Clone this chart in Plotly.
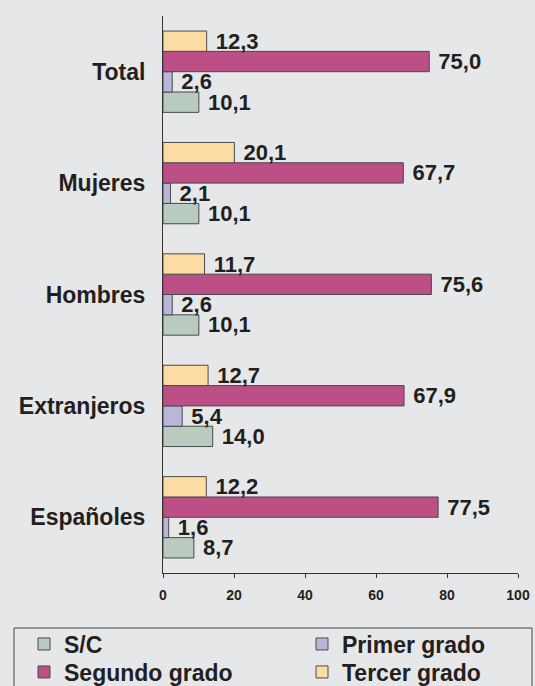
import plotly.graph_objects as go

categories = ["Españoles", "Extranjeros", "Hombres", "Mujeres", "Total"]
sc = [8.7, 14.0, 10.1, 10.1, 10.1]
primer = [1.6, 5.4, 2.6, 2.1, 2.6]
segundo = [77.5, 67.9, 75.6, 67.7, 75.0]
tercer = [12.2, 12.7, 11.7, 20.1, 12.3]
x_ticks = [0, 20, 40, 60, 80, 100]

series = [
    ("S/C", sc, "#b9cbbf", "legend"),
    ("Primer grado", primer, "#b9b6da", "legend2"),
    ("Segundo grado", segundo, "#bc4f85", "legend3"),
    ("Tercer grado", tercer, "#fbdca2", "legend4"),
]

FONT = "Liberation Sans, Arial, sans-serif"
DARK = "#231f20"
BG = "#e6e7e9"

fig = go.Figure()
for name, vals, color, lg in series:
    fig.add_trace(go.Bar(
        y=categories, x=vals, name=name, orientation="h",
        marker=dict(color=color, line=dict(color="#4a4a4a", width=1)),
        texttemplate=" %{x:.1f}", textposition="outside",
        textfont=dict(family=FONT, size=22, color=DARK, weight="bold"),
        constraintext="none", cliponaxis=False,
        legend=lg, showlegend=True,
    ))

W, H = 535, 686
L, R, T, B = 163, 17, 16, 113
pw = W - L - R
ph = H - T - B

def px_x(p):
    return (p - L) / pw

def px_y(p):
    return (H - B - p) / ph

def leg(xp, yp):
    return dict(
        x=px_x(xp), y=px_y(yp), xanchor="left", yanchor="middle",
        orientation="v", bgcolor="rgba(0,0,0,0)", borderwidth=0,
        font=dict(family=FONT, size=23, color=DARK, weight="bold"),
    )

fig.update_layout(
    width=W, height=H,
    showlegend=True,
    margin=dict(l=L, r=R, t=T, b=B, autoexpand=False),
    paper_bgcolor=BG, plot_bgcolor=BG,
    barmode="group", bargap=0.27, bargroupgap=0,
    separators=",.",
    font=dict(family=FONT, color=DARK),
    xaxis=dict(
        range=[0, 100], tickvals=x_ticks, showgrid=False, zeroline=False,
        showline=True, linecolor="#333333", linewidth=1,
        ticks="outside", ticklen=4, tickcolor="#333333",
        ticklabelstandoff=5,
        tickfont=dict(family=FONT, size=14, color=DARK, weight="bold"),
    ),
    yaxis=dict(
        categoryorder="array", categoryarray=categories,
        showgrid=False, zeroline=False, showline=True,
        linecolor="#333333", linewidth=1, ticks="",
        ticklabelstandoff=12,
        tickfont=dict(family=FONT, size=23, color=DARK, weight="bold"),
    ),
    legend=leg(24, 644),
    legend2=leg(302, 644),
    legend3=leg(24, 672),
    legend4=leg(302, 672),
    shapes=[dict(
        type="rect", xref="paper", yref="paper",
        x0=px_x(14), x1=px_x(532), y0=px_y(628), y1=px_y(700),
        line=dict(color="#444444", width=1), fillcolor="rgba(0,0,0,0)",
    )],
)

fig.write_html(
    "out.html",
    config={"displayModeBar": False},
    post_script="document.body.style.margin='0';document.body.style.overflow='hidden';",
)
